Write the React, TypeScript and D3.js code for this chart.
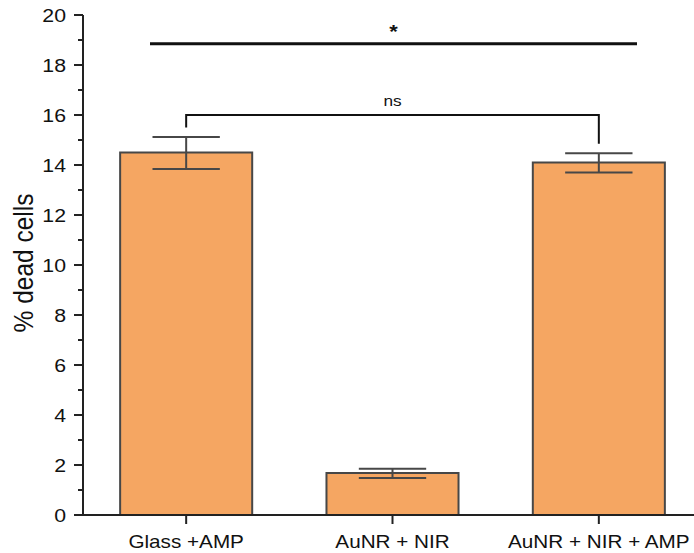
import React from "react";
import * as d3 from "d3";

const categories = ["Glass +AMP", "AuNR + NIR", "AuNR + NIR + AMP"];
const means = [14.5, 1.68, 14.1];
const errPlus = [0.62, 0.17, 0.37];
const errMinus = [0.66, 0.2, 0.4];
const yTicks = [0, 2, 4, 6, 8, 10, 12, 14, 16, 18, 20];
const yMinorTicks = [1, 3, 5, 7, 9, 11, 13, 15, 17, 19];
const starLevel = 18.85;
const nsLevel = 16.0;
const nsLegEnds = [15.5, 14.85];

const W = 694, H = 553;
const left = 83, top = 15, bottom = 515, right = 702;
const SX = 1.15;

export default function App() {
  const y = d3.scaleLinear().domain([0, 20]).range([bottom, top]);
  const x = d3.scaleBand().domain(categories).range([left, right]).paddingInner(0.36).paddingOuter(0.18);
  const bw = x.bandwidth();
  const cx = (c: string) => (x(c) as number) + bw / 2;
  const capW = bw * 0.51;
  const font = "'Liberation Sans', Arial, sans-serif";
  const barStroke = "#474747";
  const T = (px: number, py: number, content: string, size: number, anchor: string, extra: any = {}) => (
    <g transform={`translate(${px},${py}) scale(${SX},1)`}>
      <text x={0} y={0} textAnchor={anchor} fontSize={size} fill="#111" {...extra}>{content}</text>
    </g>
  );
  return (
    <svg width={W} height={H} style={{ position: "absolute", left: 0, top: 0, background: "#fff" }} fontFamily={font}>
      {categories.map((c, i) => (
        <g key={c}>
          <rect x={x(c)} y={y(means[i])} width={bw} height={y(0) - y(means[i])} fill="#F5A662" stroke={barStroke} strokeWidth={2} />
          <line x1={cx(c)} x2={cx(c)} y1={y(means[i] + errPlus[i])} y2={y(means[i] - errMinus[i])} stroke={barStroke} strokeWidth={2} />
          <line x1={cx(c) - capW / 2} x2={cx(c) + capW / 2} y1={y(means[i] + errPlus[i])} y2={y(means[i] + errPlus[i])} stroke={barStroke} strokeWidth={2} />
          <line x1={cx(c) - capW / 2} x2={cx(c) + capW / 2} y1={y(means[i] - errMinus[i])} y2={y(means[i] - errMinus[i])} stroke={barStroke} strokeWidth={2} />
        </g>
      ))}
      <line x1={left} x2={left} y1={top} y2={bottom} stroke="#222" strokeWidth={2} />
      <line x1={left - 1} x2={W} y1={bottom} y2={bottom} stroke="#222" strokeWidth={2} />
      {yTicks.map((t) => (
        <g key={t}>
          <line x1={left - 9} x2={left} y1={y(t)} y2={y(t)} stroke="#222" strokeWidth={2} />
          {T(left - 17, y(t) + 6.7, String(t), 18.5, "end")}
        </g>
      ))}
      {yMinorTicks.map((t) => (
        <line key={t} x1={left - 5} x2={left} y1={y(t)} y2={y(t)} stroke="#222" strokeWidth={2} />
      ))}
      {categories.map((c) => (
        <g key={c}>
          <line x1={cx(c)} x2={cx(c)} y1={bottom} y2={bottom + 9} stroke="#222" strokeWidth={2} />
          {T(cx(c), 548, c, 18, "middle")}
        </g>
      ))}
      <g transform={`translate(33,${(top + bottom) / 2 - 2}) scale(${SX},1) rotate(-90)`}>
        <text x={0} y={0} textAnchor="middle" fontSize={24.5} fill="#111">% dead cells</text>
      </g>
      <line x1={150} x2={637} y1={y(starLevel)} y2={y(starLevel)} stroke="#111" strokeWidth={3} />
      {T((150 + 637) / 2, y(starLevel) - 6, "*", 19, "middle", { fontWeight: "bold" })}
      <path
        d={`M${cx(categories[0])},${y(nsLegEnds[0])}V${y(nsLevel)}H${cx(categories[2])}V${y(nsLegEnds[1])}`}
        fill="none" stroke="#111" strokeWidth={2}
      />
      {T((cx(categories[0]) + cx(categories[2])) / 2, y(nsLevel) - 9, "ns", 15, "middle")}
    </svg>
  );
}
